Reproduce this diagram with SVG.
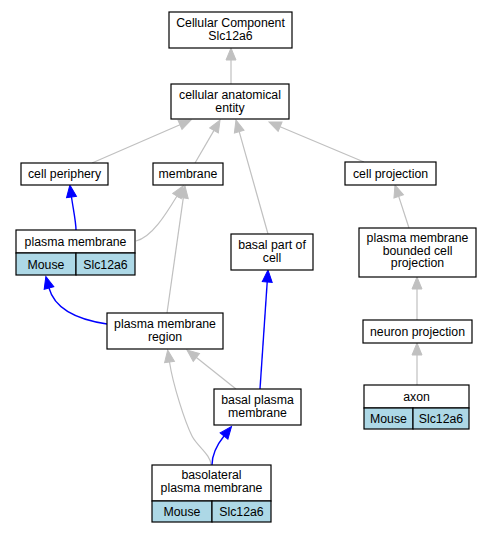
<svg xmlns="http://www.w3.org/2000/svg" width="492" height="533" viewBox="0 0 492 533">
<style>
.box{fill:#fff;stroke:#000;stroke-width:1.2}
.cell{fill:#add8e6;stroke:#000;stroke-width:1.2}
text{font-family:"Liberation Sans",Arial,sans-serif;font-size:12.3px;fill:#000;text-anchor:middle}
.g{fill:none;stroke:#c0c0c0;stroke-width:1.2}
.b{fill:none;stroke:#0000ff;stroke-width:1.4}
.g{marker-end:url(#ag)}
.b{marker-end:url(#ab)}
</style>
<defs>
<marker id="ag" markerUnits="userSpaceOnUse" markerWidth="12" markerHeight="10" viewBox="0 0 12 10" refX="0" refY="5" orient="auto" overflow="visible"><path d="M0,0 L12,5 L0,10 z" fill="#c0c0c0" stroke="#c0c0c0"/></marker>
<marker id="ab" markerUnits="userSpaceOnUse" markerWidth="12" markerHeight="10" viewBox="0 0 12 10" refX="0" refY="5" orient="auto" overflow="visible"><path d="M0,0 L12,5 L0,10 z" fill="#0000ff" stroke="#0000ff"/></marker>
</defs>
<g id="edges">
<path class="g" d="M231,84 L231,60"/>
<path class="g" d="M92,163 L180,124.8"/>
<path class="g" d="M195,163 L214,130.4"/>
<path class="g" d="M268,234 L239.2,131.6"/>
<path class="g" d="M364,162 L280.1,126.7"/>
<path class="b" d="M76,230 C76,222 73,208 71.5,197"/>
<path class="g" d="M136,241 C152,237 166,214 177,196"/>
<path class="g" d="M167,313 L183.3,197.9"/>
<path class="b" d="M107,324 C80,320 55,310 49,288"/>
<path class="g" d="M236,389 L196.4,357.5"/>
<path class="b" d="M260,389 L267.2,282"/>
<path class="g" d="M211,465 C211,455 197,446 192,436 C185,422 173,385 169.5,362"/>
<path class="b" d="M212,465 C212,455 216,446 224,436"/>
<path class="g" d="M409,228 L398.7,196.4"/>
<path class="g" d="M417,320 L417,289"/>
<path class="g" d="M417,385 L417,355"/>
</g>
<g id="cc"><rect class="box" x="169" y="12" width="123" height="36"/><text x="230.5" y="27.3">Cellular Component</text><text x="230.5" y="40">Slc12a6</text></g>
<g id="cae"><rect class="box" x="171" y="84" width="118" height="35"/><text x="230" y="98.8">cellular anatomical</text><text x="230" y="111.5">entity</text></g>
<g id="cell_periphery"><rect class="box" x="21" y="163" width="87" height="22"/><text x="64.5" y="178">cell periphery</text></g>
<g id="membrane"><rect class="box" x="153" y="163" width="70" height="22"/><text x="188" y="178">membrane</text></g>
<g id="cell_projection"><rect class="box" x="345" y="162" width="91" height="23"/><text x="390.5" y="178">cell projection</text></g>
<g id="plasma_membrane"><rect class="box" x="16" y="230" width="119" height="23"/><rect class="cell" x="16" y="253" width="60" height="22"/><rect class="cell" x="76" y="253" width="59" height="22"/><text x="75.5" y="245.5">plasma membrane</text><text x="46" y="268.5">Mouse</text><text x="105.5" y="268.5">Slc12a6</text></g>
<g id="basal_part"><rect class="box" x="231" y="234" width="82" height="36"/><text x="272" y="249.3">basal part of</text><text x="272" y="262">cell</text></g>
<g id="pmbcp"><rect class="box" x="359" y="228" width="117" height="49"/><text x="417.5" y="242">plasma membrane</text><text x="417.5" y="254.7">bounded cell</text><text x="417.5" y="267.4">projection</text></g>
<g id="pmr"><rect class="box" x="107" y="313" width="116" height="36"/><text x="165" y="328.3">plasma membrane</text><text x="165" y="341">region</text></g>
<g id="neuron_projection"><rect class="box" x="363" y="320" width="109" height="23"/><text x="417.5" y="335.5">neuron projection</text></g>
<g id="axon"><rect class="box" x="364" y="385" width="105" height="23"/><rect class="cell" x="364" y="408" width="49" height="21"/><rect class="cell" x="413" y="408" width="56" height="21"/><text x="416.5" y="400.5">axon</text><text x="388.5" y="422.5">Mouse</text><text x="441" y="422.5">Slc12a6</text></g>
<g id="bpm"><rect class="box" x="214" y="389" width="87" height="36"/><text x="257.5" y="404.3">basal plasma</text><text x="257.5" y="417">membrane</text></g>
<g id="basolateral"><rect class="box" x="152" y="465" width="119" height="36"/><rect class="cell" x="152" y="501" width="60" height="21"/><rect class="cell" x="212" y="501" width="59" height="21"/><text x="211.5" y="478.5">basolateral</text><text x="211.5" y="492">plasma membrane</text><text x="182" y="516">Mouse</text><text x="241.5" y="516">Slc12a6</text></g>
</svg>
